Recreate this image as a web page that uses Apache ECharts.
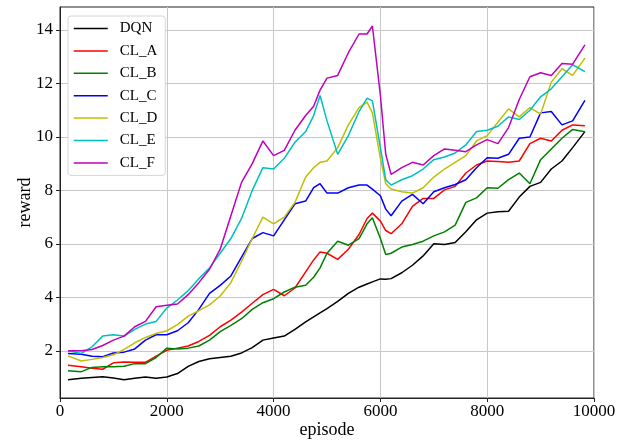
<!DOCTYPE html>
<html>
<head>
<meta charset="utf-8">
<title>reward vs episode</title>
<script src="https://cdn.jsdelivr.net/npm/echarts@6/dist/echarts.min.js"></script>
<style>
  html, body { margin: 0; padding: 0; background: #fff; }
  #chart { width: 631px; height: 441px; }
</style>
</head>
<body>
<div id="chart"></div>
<script>
const episodes = [150, 400, 600, 800, 1000, 1200, 1400, 1600, 1800, 2000,
  2200, 2400, 2600, 2800, 3000, 3200, 3400, 3600, 3800, 4000,
  4200, 4400, 4600, 4750, 4870, 5000, 5200, 5400, 5600, 5750,
  5850, 6000, 6100, 6200, 6400, 6600, 6800, 7000, 7200, 7400,
  7600, 7800, 8000, 8200, 8400, 8600, 8800, 9000, 9200, 9400,
  9600, 9830];

const dqn = [0.92, 0.97, 1.0, 1.03, 0.98, 0.92, 0.97, 1.02, 0.97, 1.02,
  1.15, 1.42, 1.6, 1.7, 1.75, 1.8, 1.92, 2.12, 2.4, 2.48,
  2.55, 2.8, 3.08, 3.27, 3.42, 3.58, 3.85, 4.15, 4.38, 4.5,
  4.58, 4.69, 4.68, 4.7, 4.92, 5.2, 5.55, 6.0, 5.98, 6.05,
  6.45, 6.9, 7.15, 7.2, 7.22, 7.75, 8.15, 8.3, 8.8, 9.1,
  9.6, 10.2];
const clA = [1.46, 1.4, 1.35, 1.31, 1.55, 1.58, 1.57, 1.57, 1.8, 2.02,
  2.1, 2.18, 2.35, 2.58, 2.9, 3.15, 3.45, 3.78, 4.1, 4.3,
  4.06, 4.35, 4.95, 5.4, 5.7, 5.65, 5.42, 5.8, 6.35, 6.95,
  7.15, 6.85, 6.5, 6.38, 6.75, 7.4, 7.7, 7.7, 8.02, 8.15,
  8.65, 8.95, 9.1, 9.08, 9.05, 9.1, 9.75, 9.95, 9.85, 10.25,
  10.45, 10.42];
const clB = [1.25, 1.22, 1.38, 1.4, 1.4, 1.42, 1.52, 1.52, 1.75, 2.1,
  2.07, 2.1, 2.18, 2.4, 2.72, 2.95, 3.2, 3.55, 3.8, 3.95,
  4.2, 4.38, 4.45, 4.75, 5.1, 5.65, 6.1, 5.95, 6.2, 6.75,
  6.98, 6.2, 5.6, 5.65, 5.88, 5.98, 6.1, 6.3, 6.45, 6.7,
  7.55, 7.72, 8.1, 8.08, 8.4, 8.65, 8.25, 9.15, 9.55, 9.95,
  10.28, 10.19];
const clC = [1.9, 1.87, 1.8, 1.78, 1.92, 1.95, 2.07, 2.4, 2.6, 2.6,
  2.75, 3.05, 3.55, 4.15, 4.45, 4.8, 5.5, 6.2, 6.42, 6.3,
  6.9, 7.5, 7.6, 8.1, 8.25, 7.9, 7.9, 8.1, 8.2, 8.2,
  8.05, 7.8, 7.3, 7.05, 7.6, 7.85, 7.5, 7.95, 8.1, 8.22,
  8.4, 8.85, 9.22, 9.2, 9.35, 9.95, 10.0, 10.9, 10.95, 10.45,
  10.6, 11.37];
const clD = [1.81, 1.62, 1.68, 1.75, 1.85, 2.05, 2.3, 2.5, 2.65, 2.75,
  2.98, 3.3, 3.5, 3.72, 4.05, 4.55, 5.35, 6.2, 7.0, 6.75,
  7.0, 7.55, 8.5, 8.85, 9.05, 9.1, 9.6, 10.45, 11.1, 11.3,
  10.9, 9.2, 8.25, 8.05, 7.95, 7.9, 8.1, 8.5, 8.8, 9.05,
  9.3, 9.85, 10.05, 10.55, 11.05, 10.75, 11.1, 10.85, 12.05, 12.55,
  12.3, 12.95];
const clE = [2.0, 1.9, 2.15, 2.55, 2.6, 2.55, 2.8, 3.0, 3.1, 3.6,
  3.9, 4.25, 4.7, 5.1, 5.65, 6.2, 6.95, 8.0, 8.85, 8.8,
  9.2, 9.8, 10.2, 10.8, 11.55, 10.6, 9.35, 10.05, 10.95, 11.45,
  11.35, 9.6, 8.4, 8.2, 8.4, 8.55, 8.8, 9.15, 9.25, 9.4,
  9.7, 10.2, 10.25, 10.4, 10.75, 10.65, 11.0, 11.5, 11.8, 12.25,
  12.7, 12.44];
const clF = [2.0, 2.0, 2.05, 2.2, 2.4, 2.55, 2.9, 3.1, 3.65, 3.7,
  3.75, 4.1, 4.55, 5.05, 5.8, 7.05, 8.3, 9.0, 9.85, 9.3,
  9.5, 10.25, 10.8, 11.15, 11.75, 12.2, 12.3, 13.15, 13.85, 13.85,
  14.15, 11.55, 9.35, 8.6, 8.85, 9.05, 8.95, 9.3, 9.55, 9.5,
  9.45, 9.7, 9.9, 9.75, 10.35, 11.4, 12.25, 12.4, 12.3, 12.75,
  12.72, 13.44];

const names = ['DQN', 'CL_A', 'CL_B', 'CL_C', 'CL_D', 'CL_E', 'CL_F'];
const values = [dqn, clA, clB, clC, clD, clE, clF];
const colors = ['#000000', '#ff0000', '#008000', '#0000ff', '#bfbf00', '#00bfbf', '#bf00bf'];
const yTicks = [2, 4, 6, 8, 10, 12, 14];

const font = 'Liberation Serif, Times New Roman, serif';

const chart = echarts.init(document.getElementById('chart'));

chart.setOption({
  animation: false,
  backgroundColor: '#fff',
  grid: {
    left: 60, right: 37, top: 7, bottom: 43,
    outerBoundsMode: 'none',
    show: true, borderColor: '#222', borderWidth: 1
  },
  legend: {
    orient: 'vertical',
    left: 68, top: 16,
    itemWidth: 34, itemHeight: 14, itemGap: 7.4,
    padding: [5, 8, 5, 5],
    backgroundColor: '#fff',
    borderColor: '#d6d6d6', borderWidth: 1, borderRadius: 3,
    // hide the dot, keep only the line sample
    itemStyle: { opacity: 0 },
    lineStyle: { width: 1.5 },
    textStyle: { fontFamily: font, fontSize: 15, color: '#000', padding: [0, 0, 0, 7] },
    data: names
  },
  xAxis: {
    type: 'value',
    min: 0, max: 10000, interval: 2000,
    name: 'episode',
    nameLocation: 'middle', nameGap: 23, nameMoveOverlap: false,
    nameTextStyle: { fontFamily: font, fontSize: 18, color: '#000' },
    axisLine: { lineStyle: { color: '#222', width: 1 } },
    axisTick: { length: 4, lineStyle: { color: '#222' } },
    axisLabel: {
      fontFamily: font, fontSize: 17, color: '#000', margin: 5,
      formatter: v => String(v)
    },
    splitLine: { lineStyle: { color: '#c8c8c8', width: 1 } }
  },
  yAxis: {
    type: 'value',
    min: 0.235, max: 14.86, splitNumber: 7,
    name: 'reward',
    nameLocation: 'middle', nameGap: 26, nameMoveOverlap: false,
    nameTextStyle: { fontFamily: font, fontSize: 18, color: '#000' },
    axisLine: { show: true, lineStyle: { color: '#222', width: 1 } },
    axisTick: { show: true, length: 4, customValues: yTicks, lineStyle: { color: '#222' } },
    axisLabel: { fontFamily: font, fontSize: 17, color: '#000', margin: 7, customValues: yTicks },
    splitLine: { lineStyle: { color: '#c8c8c8', width: 1 } }
  },
  series: names.map((name, i) => ({
    name: name,
    type: 'line',
    symbol: 'none',
    color: colors[i],
    lineStyle: { color: colors[i], width: 1.5 },
    data: episodes.map((e, j) => [e, values[i][j]])
  }))
});
</script>
</body>
</html>
